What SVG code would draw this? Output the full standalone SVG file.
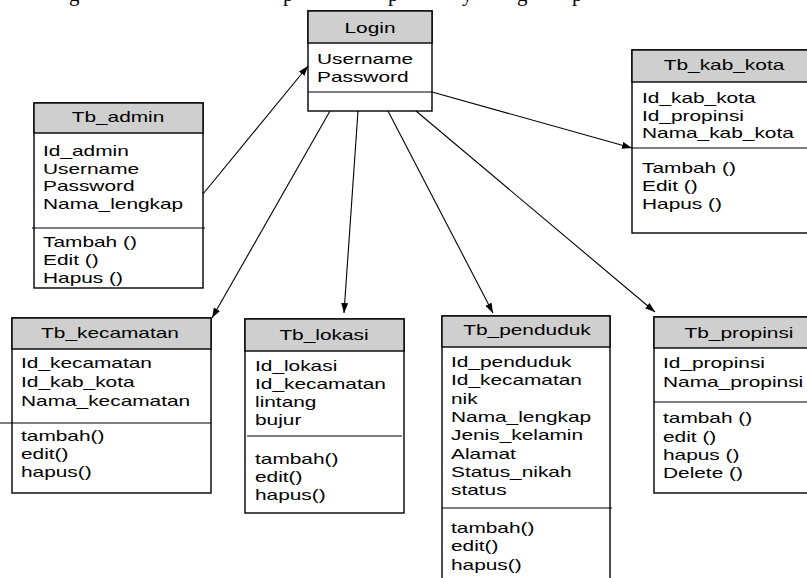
<svg xmlns="http://www.w3.org/2000/svg" width="807" height="578" viewBox="0 0 807 578">
<defs>
<marker id="ah" viewBox="0 0 10 7" refX="10" refY="3.5" markerWidth="10" markerHeight="7" markerUnits="userSpaceOnUse" orient="auto">
<path d="M0,0 L10,3.5 L0,7 z" fill="#000"/>
</marker>
</defs>
<style>
.box{fill:#fff;stroke:#000;stroke-width:1.4}
.hd{fill:#cfcfcf;stroke:#000;stroke-width:1.4}
.ln{stroke:#000;stroke-width:1.2}
.t{font-family:"Liberation Sans",Arial,sans-serif;font-size:15px;fill:#000}
.c{text-anchor:middle}
.conn line{stroke:#000;stroke-width:1.1;marker-end:url(#ah)}
.cap{font-family:"Liberation Serif","Times New Roman",serif;font-size:21px;fill:#000}
</style>
<rect width="807" height="578" fill="#fff"/>
<g id="caption"><text class="cap" y="1" x="69 283 388 462 517 572">gppygp</text></g>

<g id="login">
<rect class="box" x="308" y="11" width="124" height="100"/>
<rect class="hd" x="308" y="11" width="124" height="32"/>
<line class="ln" x1="308" y1="92" x2="432" y2="92"/>
<g transform="translate(370,0) scale(1.39,1)"><text class="t c" y="33">Login</text></g>
<g transform="translate(317,0) scale(1.39,1)"><text class="t" y="64">Username</text><text class="t" y="82">Password</text></g>
</g>

<g id="tb_admin">
<rect class="box" x="34" y="103" width="169" height="185"/>
<rect class="hd" x="34" y="103" width="169" height="30"/>
<line class="ln" x1="32" y1="228" x2="205" y2="228"/>
<g transform="translate(118,0) scale(1.39,1)"><text class="t c" y="122">Tb_admin</text></g>
<g transform="translate(43,0) scale(1.39,1)">
<text class="t" y="156">Id_admin</text><text class="t" y="174">Username</text><text class="t" y="191">Password</text><text class="t" y="209">Nama_lengkap</text>
<text class="t" y="247">Tambah ()</text><text class="t" y="265">Edit ()</text><text class="t" y="283">Hapus ()</text>
</g>
</g>

<g id="tb_kab_kota">
<rect class="box" x="632" y="50" width="180" height="183"/>
<rect class="hd" x="632" y="50" width="180" height="32"/>
<line class="ln" x1="632" y1="148" x2="812" y2="148"/>
<g transform="translate(724,0) scale(1.39,1)"><text class="t c" y="70">Tb_kab_kota</text></g>
<g transform="translate(642,0) scale(1.39,1)">
<text class="t" y="103">Id_kab_kota</text><text class="t" y="121">Id_propinsi</text><text class="t" y="138">Nama_kab_kota</text>
<text class="t" y="173">Tambah ()</text><text class="t" y="191">Edit ()</text><text class="t" y="209">Hapus ()</text>
</g>
</g>

<g id="tb_kecamatan">
<rect class="box" x="12" y="318" width="199" height="175"/>
<rect class="hd" x="12" y="318" width="199" height="31"/>
<line class="ln" x1="0" y1="423" x2="211" y2="423"/>
<g transform="translate(110,0) scale(1.39,1)"><text class="t c" y="338">Tb_kecamatan</text></g>
<g transform="translate(21,0) scale(1.39,1)">
<text class="t" y="368">Id_kecamatan</text><text class="t" y="387">Id_kab_kota</text><text class="t" y="406">Nama_kecamatan</text>
<text class="t" y="441">tambah()</text><text class="t" y="459">edit()</text><text class="t" y="477">hapus()</text>
</g>
</g>

<g id="tb_lokasi">
<rect class="box" x="245" y="319" width="159" height="194"/>
<rect class="hd" x="245" y="319" width="159" height="32"/>
<line class="ln" x1="247" y1="436" x2="402" y2="436"/>
<g transform="translate(324,0) scale(1.39,1)"><text class="t c" y="340">Tb_lokasi</text></g>
<g transform="translate(255,0) scale(1.39,1)">
<text class="t" y="371">Id_lokasi</text><text class="t" y="389">Id_kecamatan</text><text class="t" y="407">lintang</text><text class="t" y="425">bujur</text>
<text class="t" y="464">tambah()</text><text class="t" y="482">edit()</text><text class="t" y="500">hapus()</text>
</g>
</g>

<g id="tb_penduduk">
<rect class="box" x="442" y="316" width="168" height="266"/>
<rect class="hd" x="442" y="316" width="168" height="31"/>
<line class="ln" x1="442" y1="508" x2="612" y2="508"/>
<g transform="translate(527,0) scale(1.39,1)"><text class="t c" y="335">Tb_penduduk</text></g>
<g transform="translate(451,0) scale(1.39,1)">
<text class="t" y="367">Id_penduduk</text><text class="t" y="385">Id_kecamatan</text><text class="t" y="404">nik</text><text class="t" y="422">Nama_lengkap</text>
<text class="t" y="440">Jenis_kelamin</text><text class="t" y="459">Alamat</text><text class="t" y="477">Status_nikah</text><text class="t" y="495">status</text>
<text class="t" y="533">tambah()</text><text class="t" y="551">edit()</text><text class="t" y="570">hapus()</text>
</g>
</g>

<g id="tb_propinsi">
<rect class="box" x="654" y="317" width="158" height="176"/>
<rect class="hd" x="654" y="317" width="158" height="31"/>
<line class="ln" x1="654" y1="402" x2="812" y2="402"/>
<g transform="translate(739,0) scale(1.39,1)"><text class="t c" y="338">Tb_propinsi</text></g>
<g transform="translate(663,0) scale(1.39,1)">
<text class="t" y="368">Id_propinsi</text><text class="t" y="387">Nama_propinsi</text>
<text class="t" y="423">tambah ()</text><text class="t" y="442">edit ()</text><text class="t" y="460">hapus ()</text><text class="t" y="478">Delete ()</text>
</g>
</g>

<g id="connectors" class="conn">
<line x1="203" y1="194" x2="308" y2="66"/>
<line x1="432" y1="92" x2="632" y2="148"/>
<line x1="330" y1="111" x2="212" y2="318"/>
<line x1="358" y1="111" x2="344" y2="313"/>
<line x1="388" y1="111" x2="493" y2="313"/>
<line x1="416" y1="111" x2="655" y2="312"/>
</g>
</svg>
